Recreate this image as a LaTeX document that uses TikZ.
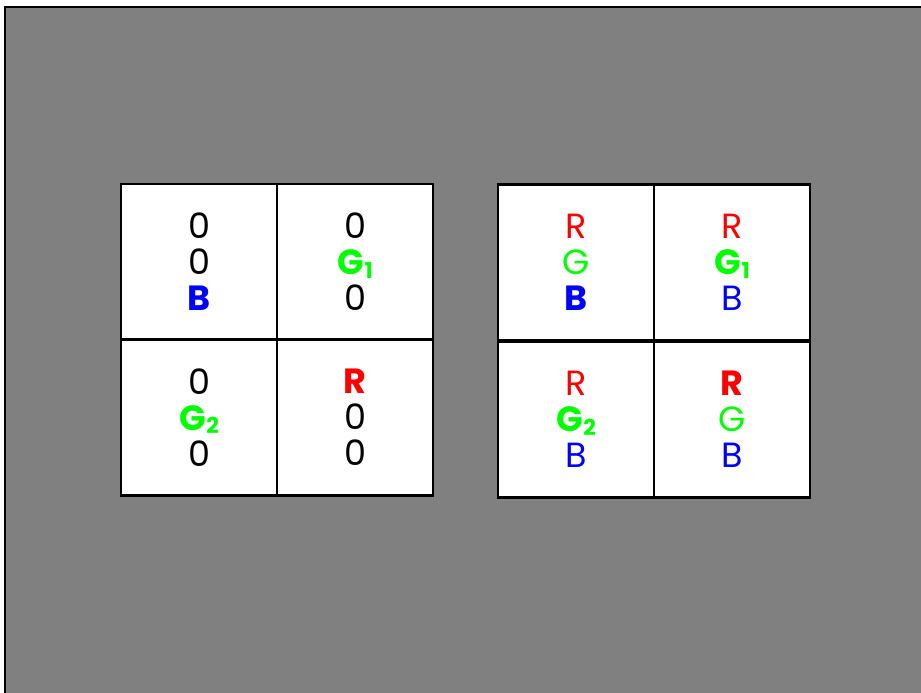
\documentclass[tikz,border=0pt]{standalone}
\usepackage{fontspec}
\setmainfont{Poppins}
\usetikzlibrary{positioning}
\definecolor{panel}{HTML}{808080}
\definecolor{chR}{HTML}{FF0000}
\definecolor{chG}{HTML}{00FF00}
\definecolor{chB}{HTML}{0000FF}
\tikzset{cell/.style={draw=black, fill=white, line width=2.4pt, minimum width=156pt, minimum height=156pt, inner sep=0pt, align=center, font=\fontsize{35}{36}\selectfont}, frame/.style={draw=black, line width=1.2pt}}
\newcommand{\Rc}{\textcolor{chR}{R}}
\newcommand{\Gc}{\textcolor{chG}{G}}
\newcommand{\Bc}{\textcolor{chB}{B}}
\newcommand{\Rs}{\textcolor{chR}{\textbf{R}}}
\newcommand{\Bs}{\textcolor{chB}{\textbf{B}}}
\newcommand{\Gs}[1]{\textcolor{chG}{\textbf{G\kern.02em\raisebox{-.1em}{\fontsize{22}{22}\selectfont #1}}}}

\begin{document}
\begin{tikzpicture}[x=1pt,y=-1pt]
\useasboundingbox (0,0) rectangle (921,693);
\fill[panel] (5,7) rectangle (930,700); \draw[frame] (5,700)--(5,7)--(930,7);
\node[cell] (lb) at (199,262) {0\\0\\\Bs};
\node[cell] (lgone) at (355,262) {0\\\Gs{1}\\0};
\node[cell] (lgtwo) at (199,417.5) {0\\\Gs{2}\\0};
\node[cell] (lr) at (355,417.5) {\Rs\\0\\0};
\node[cell] (rb) at (576,262.5) {\Rc\\\Gc\\\Bs};
\node[cell] (rgone) at (732,262.5) {\Rc\\\Gs{1}\\\Bc};
\node[cell] (rgtwo) at (576,419.5) {\Rc\\\Gs{2}\\\Bc};
\node[cell] (rr) at (732,419.5) {\Rs\\\Gc\\\Bc};
\end{tikzpicture}
\end{document}
